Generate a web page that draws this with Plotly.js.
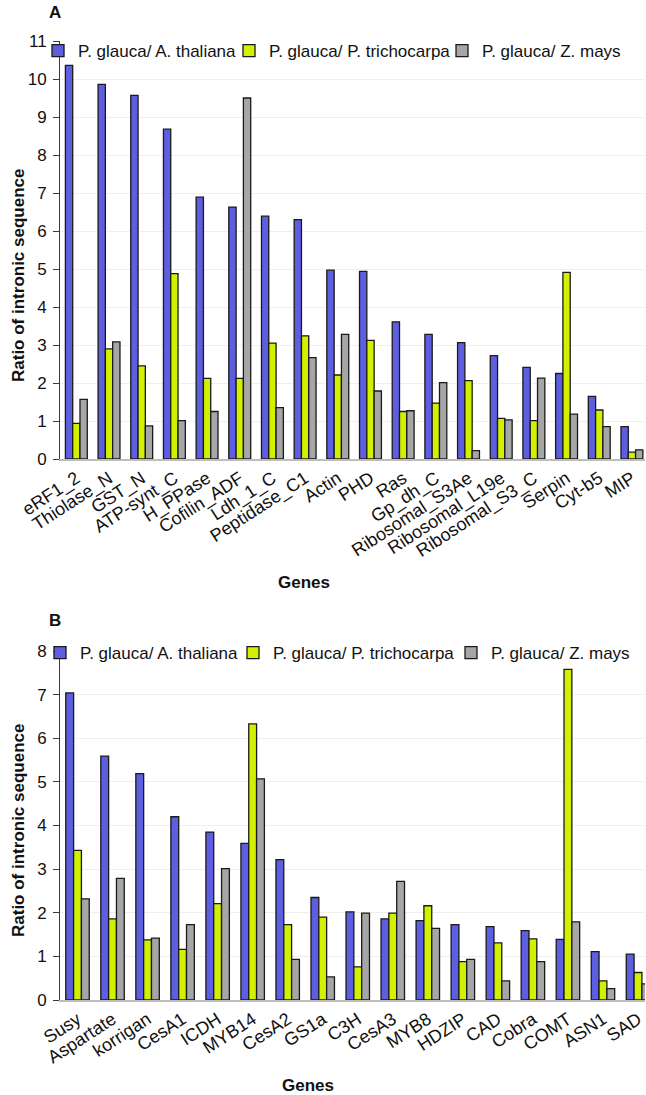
<!DOCTYPE html>
<html><head><meta charset="utf-8">
<script src="https://cdn.plot.ly/plotly-3.0.1.min.js"></script>
<style>html,body{margin:0;padding:0;background:#fff}</style>
</head><body><div id="chart" style="width:646px;height:1095px"></div>
<script>
const seriesNames = ['P. glauca/ A. thaliana', 'P. glauca/ P. trichocarpa', 'P. glauca/ Z. mays'];
const seriesColors = ['#5E5EE0', '#D2F000', '#A6A6A6'];

const genesA = ['eRF1_2', 'Thiolase_N', 'GST_N', 'ATP-synt_C', 'H_PPase', 'Cofilin_ADF', 'Ldh_1_C', 'Peptidase_C1', 'Actin', 'PHD', 'Ras', 'Gp_dh_C', 'Ribosomal_S3Ae', 'Ribosomal_L19e', 'Ribosomal_S3_C', 'Serpin', 'Cyt-b5', 'MIP'];
const athalA = [10.36, 9.86, 9.57, 8.68, 6.89, 6.63, 6.39, 6.30, 4.97, 4.94, 3.61, 3.28, 3.06, 2.72, 2.41, 2.25, 1.65, 0.85];
const ptrichA = [0.94, 2.90, 2.45, 4.88, 2.12, 2.12, 3.05, 3.24, 2.21, 3.12, 1.25, 1.47, 2.06, 1.07, 1.01, 4.91, 1.29, 0.18];
const zmaysA = [1.57, 3.08, 0.87, 1.01, 1.25, 9.50, 1.35, 2.67, 3.28, 1.79, 1.27, 2.01, 0.22, 1.03, 2.13, 1.18, 0.85, 0.24];

const genesB = ['Susy', 'Aspartate', 'korrigan', 'CesA1', 'ICDH', 'MYB14', 'CesA2', 'GS1a', 'C3H', 'CesA3', 'MYB8', 'HDZIP', 'CAD', 'Cobra', 'COMT', 'ASN1', 'SAD'];
const athalB = [7.04, 5.59, 5.19, 4.20, 3.85, 3.59, 3.22, 2.35, 2.02, 1.86, 1.82, 1.73, 1.68, 1.59, 1.39, 1.11, 1.05];
const ptrichB = [3.43, 1.86, 1.38, 1.16, 2.21, 6.33, 1.73, 1.90, 0.76, 1.99, 2.16, 0.88, 1.31, 1.40, 7.58, 0.44, 0.63];
const zmaysB = [2.32, 2.79, 1.42, 1.73, 3.01, 5.07, 0.93, 0.53, 1.99, 2.72, 1.64, 0.93, 0.44, 0.88, 1.79, 0.26, 0.37];

const W = 646, H = 1095, L = 60, R = 1;
const PW = W - L - R;
const px = x => (x - L) / PW;
const py = y => 1 - y / H;
const FONT = 'Liberation Sans, Arial, sans-serif';

const valsA = [athalA, ptrichA, zmaysA];
const valsB = [athalB, ptrichB, zmaysB];
const traces = [];
valsA.forEach((v, i) => traces.push({
  type: 'bar', x: genesA, y: v, name: seriesNames[i], xaxis: 'x', yaxis: 'y',
  legend: i === 0 ? 'legend' : 'legend' + (i + 1),
  marker: {color: seriesColors[i], line: {color: '#1a1a1a', width: 1.3}}
}));
valsB.forEach((v, i) => traces.push({
  type: 'bar', x: genesB, y: v, name: seriesNames[i], xaxis: 'x2', yaxis: 'y2',
  legend: 'legend' + (i + 4),
  marker: {color: seriesColors[i], line: {color: '#1a1a1a', width: 1.3}}
}));

const legFont = {family: FONT, size: 17, color: '#111'};
function leg(textX, textY) {
  return {x: px(textX - 40), y: py(textY), xanchor: 'left', yanchor: 'middle',
          orientation: 'h', bgcolor: 'rgba(0,0,0,0)', borderwidth: 0, font: legFont,
          itemclick: false, itemdoubleclick: false};
}

const yax = (dom, top) => ({
  domain: dom, range: [0, top], dtick: 1, showline: true, linecolor: '#3a3a3a', linewidth: 1,
  ticks: 'outside', ticklen: 6, tickcolor: '#3a3a3a', tickfont: {family: FONT, size: 17, color: '#111'},
  gridcolor: '#F0F0EB', gridwidth: 1, zeroline: false, fixedrange: true, ticklabelstandoff: 3
});
const xax = (anchor, rng) => ({
  anchor: anchor, domain: [0, 1], range: rng, type: 'category', showline: true, linecolor: '#BDBDBD', linewidth: 2,
  ticks: '', tickangle: -33, tickfont: {family: FONT, size: 18, color: '#111'}, showgrid: false, fixedrange: true
});

const ann = (text, x, y, size, bold, angle) => ({
  text: bold ? '<b>' + text + '</b>' : text, xref: 'paper', yref: 'paper', x: px(x), y: py(y),
  xanchor: 'center', yanchor: 'middle', showarrow: false, textangle: angle || 0,
  font: {family: FONT, size: size, color: '#111'}
});

const layout = {
  width: W, height: H, margin: {l: L, r: R, t: 0, b: 0}, paper_bgcolor: '#fff', plot_bgcolor: '#fff',
  barmode: 'group', bargap: 0.33, bargroupgap: 0, showlegend: true,
  xaxis: xax('y', [-0.5, 17.4]),
  yaxis: yax([py(459), py(41)], 11),
  xaxis2: xax('y2', [-0.5, 16.2]),
  yaxis2: yax([py(1000), py(651)], 8),
  legend: leg(78, 51), legend2: leg(269, 51), legend3: leg(482, 51),
  legend4: leg(80, 653), legend5: leg(273, 653), legend6: leg(491, 653),
  annotations: [
    ann('A', 55, 13, 17, true),
    ann('B', 55, 620, 17, true),
    ann('Ratio of intronic sequence', 18, 276, 17, true, -90),
    ann('Ratio of intronic sequence', 18, 831, 17, true, -90),
    ann('Genes', 304, 582, 17, true),
    ann('Genes', 308, 1085, 17, true)
  ]
};
Plotly.newPlot('chart', traces, layout, {displayModeBar: false, staticPlot: true});
</script></body></html>
